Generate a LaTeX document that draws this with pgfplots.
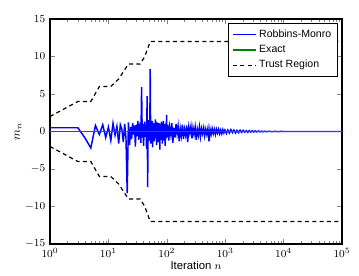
\documentclass[border=0pt]{standalone}
\usepackage{pgfplots}
\pgfplotsset{compat=1.18}
\usepackage{fontspec}
\setmainfont{Liberation Sans}
\begin{document}
\begin{tikzpicture}[x=0.75pt,y=0.75pt]
\useasboundingbox (0,0) rectangle (359,275);
\begin{axis}[
  at={(50pt*0.75,31pt*0.75)}, anchor=south west,
  scale only axis, width=219pt, height=168.75pt,
  xmode=log, xmin=1, xmax=100000, ymin=-15, ymax=15,
  ytick={-15,-10,-5,0,5,10,15},
  xtick={1,10,100,1000,10000,100000},
  tick align=inside,
  tick label style={font=\fontsize{8}{9}\selectfont},
  xlabel={\fontsize{8.5}{10}\selectfont Iteration $n$},
  ylabel={\fontsize{9}{10}\selectfont $m_n$},
  xlabel style={yshift=4pt},
  ylabel style={yshift=-4pt},
  axis line style={line width=0.8pt},
  major tick length=4pt, minor tick length=2pt,
  legend style={at={(0.985,0.982)}, anchor=north east, draw=black, line width=0.6pt,
    font=\fontsize{7.9}{9.5}\selectfont, row sep=0.5pt, inner sep=2.5pt, cells={anchor=west}},
  legend cell align=left,
]
\addplot[blue, line width=1.1pt] coordinates {
(1,0.5)(2,0.5)(3,0.5)(4,-0.9)(5,-2.2)(6,0.8)(7,-0.4)(8,0.9)(9,-0.8)(10,0.6)
(11,-1.2)(12,1.1)(13,-0.5)(14,0.7)(15,-1.6)(16,0.9)(17,0.3)(18,-1.4)(19,1.0)(20,-0.9)
(21,-8.2)(22,1.2)(23,-1.8)(24,0.6)(25,-1.0)(26,1.1)(27,-0.4)(28,0.8)(29,-2.0)(30,0.9)
(31,-0.6)(32,1.4)(33,-1.1)(34,0.3)(35,1.2)(36,-1.5)(37,5.9)(38,-0.8)(39,1.0)(40,-1.9)
(41,0.4)(42,1.3)(43,-0.7)(44,0.9)(45,-2.3)(46,4.7)(47,-7.4)(48,1.5)(49,-0.9)(50,0.6)
(51,-1.2)(52,8.3)(53,-1.6)(54,1.0)(55,-0.5)(56,1.4)(57,-2.1)(58,0.8)(59,-0.3)(60,1.1)
(61,-1.3)(62,0.7)(63,-0.4)(64,1.6)(65,-0.9)(66,0.5)(67,-1.8)(68,1.2)(69,-0.2)(70,0.9)
(71,-1.4)(72,0.6)(73,1.1)(74,-0.7)(75,0.3)(76,-2.4)(77,1.0)(78,-0.5)(79,0.8)(80,-1.1)
(81,1.3)(82,-0.3)(83,0.5)(84,-1.6)(85,0.9)(86,-0.8)(87,1.4)(88,-0.4)(89,0.2)(90,-1.2)
(91,0.7)(92,-0.6)(93,1.0)(94,-1.9)(95,0.4)(96,-0.2)(97,1.1)(98,-0.9)(99,2.2)(100,-0.7)
(104,0.9)(108,-1.2)(112,0.6)(117,-0.4)(122,1.1)(127,-1.5)(132,0.5)(138,-0.8)(144,1.0)(150,-0.3)
(156,0.7)(163,-1.3)(170,0.4)(177,-0.6)(185,0.9)(193,-1.0)(201,0.3)(210,-0.5)(219,0.8)(228,-1.4)
(238,0.6)(248,-0.2)(259,0.7)(270,-0.9)(281,0.5)(293,-0.4)(306,0.6)(319,-1.1)(333,0.3)(347,-0.5)
(362,0.6)(377,-0.7)(393,0.4)(410,-0.3)(428,0.5)(446,-0.6)(465,0.3)(485,-0.4)(506,0.4)(528,-1.3)
(550,0.3)(574,-0.4)(598,0.4)(624,-0.3)(651,0.3)(679,-0.4)(708,0.3)(738,-0.2)(770,0.3)(803,-0.3)
(837,0.2)(873,-0.3)(910,0.25)(949,-0.2)(990,0.2)
(1050,-0.25)(1110,0.2)(1180,-0.2)(1250,0.25)(1330,-0.15)(1410,0.2)(1500,-0.2)(1590,0.15)(1690,-0.15)(1800,0.18)
(1910,-0.12)(2030,0.15)(2150,-0.1)(2290,0.12)(2430,-0.1)(2580,0.1)(2740,-0.08)(2910,0.1)(3090,-0.07)(3280,0.08)
(3480,-0.06)(3700,0.07)(3930,-0.05)(4170,0.05)(4430,-0.04)(4700,0.04)(5000,-0.03)(5600,0.03)(6300,-0.02)(7100,0.02)
(8000,-0.01)(9000,0.01)(10000,0)(100000,0)
};
\addlegendentry{Robbins-Monro}
\addplot[color={rgb,1:red,0;green,0.5;blue,0}, line width=1.2pt] coordinates {(1,0)(100000,0)};
\addlegendentry{Exact}
\addplot[black, line width=0.9pt, dash pattern=on 3pt off 2.5pt] coordinates {
(1,2)(3,4)(5,4)(7,6)(11,6)(15,7)(22,9)(35,9)(42,10)(52,12)(100000,12)};
\addlegendentry{Trust Region}
\addplot[black, line width=0.9pt, dash pattern=on 3pt off 2.5pt, forget plot] coordinates {
(1,-2)(3,-4)(5,-4)(7,-6)(11,-6)(15,-7)(22,-9)(35,-9)(42,-10)(52,-12)(100000,-12)};
\end{axis}
\end{tikzpicture}
\end{document}
